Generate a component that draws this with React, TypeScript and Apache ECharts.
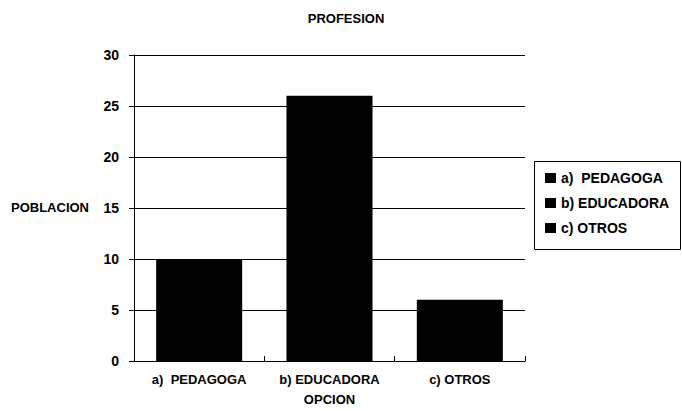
import React, { useEffect, useRef } from "react";
import * as echarts from "echarts";

const title = "PROFESION";
const categories = ["a)  PEDAGOGA", "b) EDUCADORA", "c) OTROS"];
const seriesNames = ["a)  PEDAGOGA", "b) EDUCADORA", "c) OTROS"];
const values = [10, 26, 6];
const yTicks = { min: 0, max: 30, interval: 5 };
const yName = "POBLACION";
const xName = "OPCION";

const FONT = "'Liberation Sans', Arial, sans-serif";

export default function App() {
  const ref = useRef<HTMLDivElement>(null);
  useEffect(() => {
    if (!ref.current) return;
    const chart = echarts.init(ref.current, undefined, { renderer: "svg" });
    const series = seriesNames.map((name, i) => ({
      name,
      type: "bar",
      stack: "total",
      barWidth: "66%",
      itemStyle: { color: "#000" },
      data: categories.map((_, j) => (j === i ? values[i] : "-")),
    }));
    chart.setOption({
      animation: false,
      backgroundColor: "#fff",
      textStyle: { fontFamily: FONT, color: "#000" },
      title: {
        text: title,
        left: 341,
        top: 7,
        textAlign: "center",
        textStyle: { fontFamily: FONT, fontSize: 13, fontWeight: "bold", color: "#000" },
      },
      grid: { left: 134, right: 157, top: 55, bottom: 48, containLabel: false },
      legend: {
        orient: "vertical",
        left: 545,
        top: 171,
        padding: 0,
        itemGap: 11,
        itemWidth: 11,
        itemHeight: 10,
        icon: "rect",
        data: seriesNames,
        textStyle: { fontFamily: FONT, fontSize: 14, fontWeight: "bold", color: "#000" },
      },
      graphic: [
        {
          type: "rect",
          shape: { x: 534.5, y: 161.5, width: 146, height: 88 },
          style: { fill: "none", stroke: "#000", lineWidth: 1 },
        },
        {
          type: "text",
          left: 11,
          top: 201,
          style: { text: yName, fontFamily: FONT, fontSize: 13, fontWeight: "bold", fill: "#000" },
        },
      ],
      xAxis: {
        type: "category",
        data: categories,
        name: xName,
        nameLocation: "middle",
        nameGap: 32,
        nameTextStyle: { fontFamily: FONT, fontSize: 13, fontWeight: "bold", color: "#000" },
        axisLine: { lineStyle: { color: "#000", width: 1 } },
        axisTick: { show: true, inside: true, length: 5, lineStyle: { color: "#000" } },
        axisLabel: {
          interval: 0,
          hideOverlap: false,
          fontFamily: FONT,
          fontSize: 13,
          fontWeight: "bold",
          color: "#000",
          margin: 12,
        },
      },
      yAxis: {
        type: "value",
        min: yTicks.min,
        max: yTicks.max,
        interval: yTicks.interval,
        axisLine: { show: true, lineStyle: { color: "#000", width: 1 } },
        axisTick: { show: true, length: 5, lineStyle: { color: "#000" } },
        axisLabel: { fontFamily: FONT, fontSize: 14, fontWeight: "bold", color: "#000", margin: 15 },
        splitLine: { show: true, lineStyle: { color: "#000", width: 1 } },
      },
      series,
    });
    return () => chart.dispose();
  }, []);
  return <div ref={ref} style={{ width: 682, height: 411, position: "absolute", left: 0, top: 0 }} />;
}
